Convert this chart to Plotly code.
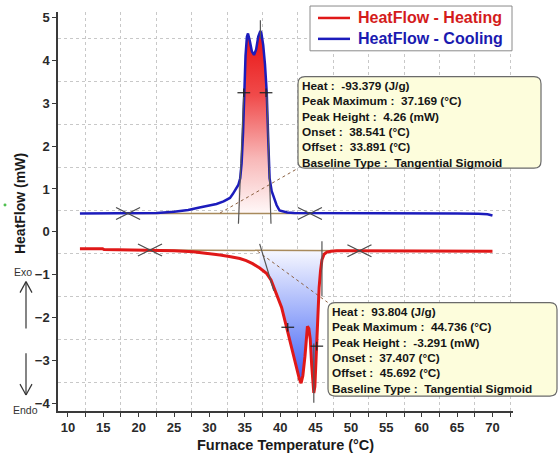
import numpy as np
import plotly.graph_objects as go

FONT = "Liberation Sans, Arial, sans-serif"

# ---------------- data ----------------
heat_x = [11.7, 14.9, 15.1, 21.6, 25, 27.7, 30, 31.5, 33, 34.3, 35.2, 36.1, 37.1, 38.1, 38.7,
          39.2, 39.7, 40.2, 40.9, 41.6, 42.3, 42.7, 42.95, 43.2, 43.5, 43.7, 43.85, 44.05,
          44.25, 44.45, 44.6, 44.75, 44.9, 45.05, 45.2, 45.35, 45.5, 45.7, 45.9, 46.2, 46.6,
          47.2, 48, 50, 55, 60, 65, 68, 69.5, 70]
heat_y = [-0.39, -0.39, -0.41, -0.42, -0.44, -0.46, -0.5, -0.54, -0.58, -0.62, -0.67, -0.74,
          -0.84, -0.97, -1.12, -1.32, -1.52, -1.76, -2.22, -2.69, -3.15, -3.42, -3.52, -3.35,
          -2.9, -2.35, -2.2, -2.25, -2.5, -3.1, -3.5, -3.75, -3.6, -3.0, -2.4, -1.8, -1.3,
          -0.9, -0.65, -0.52, -0.47, -0.45, -0.44, -0.44, -0.44, -0.44, -0.44, -0.44, -0.44, -0.45]

cool_x = [11.7, 15, 20, 22.6, 25, 27, 28.6, 30, 31, 32, 32.9, 33.3, 33.7, 34.1, 34.35, 34.55,
          34.75, 34.9, 35.1, 35.3, 35.45, 35.7, 36.0, 36.3, 36.6, 36.9, 37.2, 37.35, 37.6,
          37.85, 38.1, 38.3, 38.5, 38.8, 39.1, 39.5, 39.9, 40.4, 41, 42, 43, 45, 50, 55, 60,
          65, 68, 69.3, 70]
cool_y = [0.43, 0.43, 0.43, 0.44, 0.47, 0.51, 0.57, 0.61, 0.65, 0.71, 0.79, 0.88, 0.98, 1.1,
          1.25, 1.6, 2.3, 3.2, 4.1, 4.55, 4.62, 4.45, 4.2, 4.12, 4.25, 4.55, 4.68, 4.62, 4.35,
          3.9, 3.24, 2.2, 1.25, 0.95, 0.79, 0.62, 0.5, 0.47, 0.45, 0.44, 0.44, 0.43, 0.43, 0.43,
          0.43, 0.43, 0.42, 0.41, 0.38]

series_names = ["HeatFlow - Heating", "HeatFlow - Cooling"]

# analysis overlays
cool_peak_range = [34.05, 38.7]
heat_peak_range = [37.1, 45.9]
cool_base_x = [18.5, 44.2]
cool_base_y = [0.43, 0.43]
heat_base_x = [21.6, 51.2]
heat_base_y = [-0.42, -0.44]
xmark_x = [18.5, 44.2, 21.6, 51.2]
xmark_y = [0.43, 0.43, -0.42, -0.44]
cross_x = [34.86, 38.0, 41.07, 45.17]
cross_y = [3.24, 3.24, -2.22, -2.66]
tang_x0 = [34.86, 38.1, 37.2, 37.1, 45.9, 44.75]
tang_y0 = [3.3, 3.3, 4.93, -0.28, -0.22, -2.6]
tang_x1 = [34.1, 38.7, 37.2, 39.1, 45.9, 44.75]
tang_y1 = [0.19, 0.19, 4.5, -1.37, -1.5, -3.98]
lead_x0 = [31.5, 36.8]
lead_y0 = [0.44, -0.45]
lead_x1 = [42.5, 46.7]
lead_y1 = [1.48, -1.64]

cool_info = ["Heat :  -93.379 (J/g)", "Peak Maximum :  37.169 (°C)", "Peak Height :  4.26 (mW)",
             "Onset :  38.541 (°C)", "Offset :  33.891 (°C)", "Baseline Type :  Tangential Sigmoid"]
heat_info = ["Heat :  93.804 (J/g)", "Peak Maximum :  44.736 (°C)", "Peak Height :  -3.291 (mW)",
             "Onset :  37.407 (°C)", "Offset :  45.692 (°C)", "Baseline Type :  Tangential Sigmoid"]

x_ticks = list(range(10, 75, 5))
y_ticks = list(range(-4, 6))

RED = "#e01818"
BLUE = "#1c1cbc"
TAN = "#a88a5c"
GRAY = "#555555"

fig = go.Figure()

# gradient fills
def peak_poly(cx, cy, rng, bx, by):
    xs = np.linspace(rng[0], rng[1], 160)
    ys = np.interp(xs, cx, cy)
    bs = np.interp(xs, bx, by)
    return np.concatenate([xs, xs[::-1]]), np.concatenate([ys, bs[::-1]])

px_, py_ = peak_poly(cool_x, cool_y, cool_peak_range, cool_base_x, cool_base_y)
fig.add_trace(go.Scatter(x=px_, y=py_, fill="toself", mode="lines", line=dict(width=0),
                         fillgradient=dict(type="vertical",
                                           colorscale=[[0, "#fff8f8"], [0.3, "#f8b8b8"],
                                                       [0.65, "#f04a4a"], [1, "#e81212"]]),
                         showlegend=False, hoverinfo="skip"))
px_, py_ = peak_poly(heat_x, heat_y, heat_peak_range, heat_base_x, heat_base_y)
fig.add_trace(go.Scatter(x=px_, y=py_, fill="toself", mode="lines", line=dict(width=0),
                         fillgradient=dict(type="vertical",
                                           colorscale=[[0, "#3353f3"], [0.5, "#93a6fa"],
                                                       [1, "#f6f7ff"]]),
                         showlegend=False, hoverinfo="skip"))

# baselines
for bx, by in [(cool_base_x, cool_base_y), (heat_base_x, heat_base_y)]:
    fig.add_trace(go.Scatter(x=bx, y=by, mode="lines", line=dict(color=TAN, width=1.5),
                             showlegend=False, hoverinfo="skip"))

# leader dotted lines
lx, ly = [], []
for a, b, c, d in zip(lead_x0, lead_y0, lead_x1, lead_y1):
    lx += [a, c, None]
    ly += [b, d, None]
fig.add_trace(go.Scatter(x=lx, y=ly, mode="lines", line=dict(color="#8b6040", width=1, dash="dot"),
                         showlegend=False, hoverinfo="skip"))

# curves
fig.add_trace(go.Scatter(x=heat_x, y=heat_y, mode="lines", line=dict(color=RED, width=3),
                         name=series_names[0], showlegend=False))
fig.add_trace(go.Scatter(x=cool_x, y=cool_y, mode="lines", line=dict(color=BLUE, width=2.5),
                         name=series_names[1], showlegend=False))

# tangent / onset lines
tx, ty = [], []
for a, b, c, d in zip(tang_x0, tang_y0, tang_x1, tang_y1):
    tx += [a, c, None]
    ty += [b, d, None]
fig.add_trace(go.Scatter(x=tx, y=ty, mode="lines", line=dict(color=GRAY, width=1.2),
                         showlegend=False, hoverinfo="skip"))

# crosshairs
cx_, cy_ = [], []
for a, b in zip(cross_x, cross_y):
    cx_ += [a - 0.9, a + 0.9, None, a, a, None]
    cy_ += [b, b, None, b - 0.1, b + 0.1, None]
fig.add_trace(go.Scatter(x=cx_, y=cy_, mode="lines", line=dict(color="#222222", width=1.2),
                         showlegend=False, hoverinfo="skip"))

# X markers
mx, my = [], []
for a, b in zip(xmark_x, xmark_y):
    mx += [a - 1.7, a + 1.7, None, a - 1.7, a + 1.7, None]
    my += [b - 0.14, b + 0.14, None, b + 0.14, b - 0.14, None]
fig.add_trace(go.Scatter(x=mx, y=my, mode="lines", line=dict(color="#4a4a4a", width=1.2),
                         showlegend=False, hoverinfo="skip"))

# ---------------- layout ----------------
L, R, T, B = 58, 47, 10, 46
W, H = 560, 457
PW, PH = W - L - R, H - T - B


def pxx(x):
    return (x - L) / PW


def pyy(y):
    return (H - B - y) / PH


def rrect(x0, y0, x1, y1, r):
    pts = [("M", [(x0 + r, y0)]), ("L", [(x1 - r, y0)]), ("Q", [(x1, y0), (x1, y0 + r)]),
           ("L", [(x1, y1 - r)]), ("Q", [(x1, y1), (x1 - r, y1)]), ("L", [(x0 + r, y1)]),
           ("Q", [(x0, y1), (x0, y1 - r)]), ("L", [(x0, y0 + r)]), ("Q", [(x0, y0), (x0 + r, y0)])]
    s = ""
    for cmd, ps in pts:
        s += cmd + " " + " ".join(f"{pxx(a):.5f},{pyy(b):.5f}" for a, b in ps) + " "
    return s + "Z"


def seg(x0, y0, x1, y1, color="#333333", width=1.2):
    return dict(type="line", xref="paper", yref="paper", x0=pxx(x0), y0=pyy(y0), x1=pxx(x1),
                y1=pyy(y1), line=dict(color=color, width=width))


shapes = []
for (x0, y0, x1, y1) in [(298, 75, 541, 167), (328, 302, 557, 396)]:
    shapes.append(dict(type="path", xref="paper", yref="paper", path=rrect(x0, y0, x1, y1, 7),
                       fillcolor="#fdfddc", line=dict(color="#6a6a6a", width=1.2), layer="above"))

# legend box (drawn)
shapes.append(dict(type="rect", xref="paper", yref="paper", x0=pxx(310), x1=pxx(512),
                   y0=pyy(49), y1=pyy(4), fillcolor="white",
                   line=dict(color="#8a8a8a", width=1)))
shapes.append(seg(318, 16, 350, 16, RED, 2.5))
shapes.append(seg(318, 37, 350, 37, BLUE, 2.5))

# Exo / Endo arrows
shapes += [seg(26, 328, 26, 281), seg(20, 292, 26, 281), seg(32, 292, 26, 281),
           seg(26, 353, 26, 395), seg(20, 384, 26, 395), seg(32, 384, 26, 395)]
shapes.append(dict(type="circle", xref="paper", yref="paper", x0=pxx(3.5), x1=pxx(6.5),
                   y0=pyy(205.5), y1=pyy(202.5), fillcolor="#50c050", line=dict(width=0)))

info_font = dict(family=FONT, size=11.8, color="#151515", weight="bold")
leg_font = dict(family=FONT, size=16, weight="bold")
annotations = [
    dict(text="<br>".join(cool_info), xref="paper", yref="paper", x=pxx(300), y=pyy(75),
         xanchor="left", yanchor="top", showarrow=False, align="left", font=info_font),
    dict(text="<br>".join(heat_info), xref="paper", yref="paper", x=pxx(330), y=pyy(302),
         xanchor="left", yanchor="top", showarrow=False, align="left", font=info_font),
    dict(text=series_names[0], xref="paper", yref="paper", x=pxx(356), y=pyy(16),
         xanchor="left", yanchor="middle", showarrow=False, font=dict(leg_font, color="#d41c1c")),
    dict(text=series_names[1], xref="paper", yref="paper", x=pxx(356), y=pyy(37),
         xanchor="left", yanchor="middle", showarrow=False, font=dict(leg_font, color="#1a1ab0")),
    dict(text="HeatFlow (mW)", xref="paper", yref="paper", x=pxx(20), y=pyy(203),
         xanchor="center", yanchor="middle", textangle=-90, showarrow=False,
         font=dict(family=FONT, size=14, color="#1a1a1a", weight="bold")),
    dict(text="Furnace Temperature (°C)", xref="paper", yref="paper", x=pxx(285), y=pyy(445),
         xanchor="center", yanchor="middle", showarrow=False,
         font=dict(family=FONT, size=14.5, color="#1a1a1a", weight="bold")),
    dict(text="Exo", xref="paper", yref="paper", x=pxx(23), y=pyy(271), xanchor="center",
         yanchor="middle", showarrow=False, font=dict(family=FONT, size=10.5, color="#333")),
    dict(text="Endo", xref="paper", yref="paper", x=pxx(25), y=pyy(410), xanchor="center",
         yanchor="middle", showarrow=False, font=dict(family=FONT, size=10.5, color="#333")),
]

axis_common = dict(showline=True, linecolor="#3a3a3a", linewidth=1.5, ticks="outside",
                   ticklen=4, tickcolor="#3a3a3a", showgrid=False, zeroline=False,
                   tickfont=dict(family=FONT, size=13, color="#2a2a2a", weight="bold"))

fig.update_layout(
    width=W, height=H, margin=dict(l=L, r=R, t=T, b=B),
    paper_bgcolor="white", plot_bgcolor="white", showlegend=False,
    xaxis=dict(range=[8.6, 72.9], tickvals=x_ticks, **axis_common,
               minor=dict(tick0=12.5, dtick=5, showgrid=True, gridcolor="#c8c8c8",
                          griddash="dot", gridwidth=1, ticks="outside", ticklen=4,
                          tickcolor="#3a3a3a")),
    yaxis=dict(range=[-4.17, 5.12], tickvals=y_ticks, **axis_common,
               minor=dict(tick0=0.5, dtick=1, showgrid=True, gridcolor="#c8c8c8",
                          griddash="dot", gridwidth=1)),
    shapes=shapes, annotations=annotations, hovermode=False,
)

fig.write_html("out.html")
